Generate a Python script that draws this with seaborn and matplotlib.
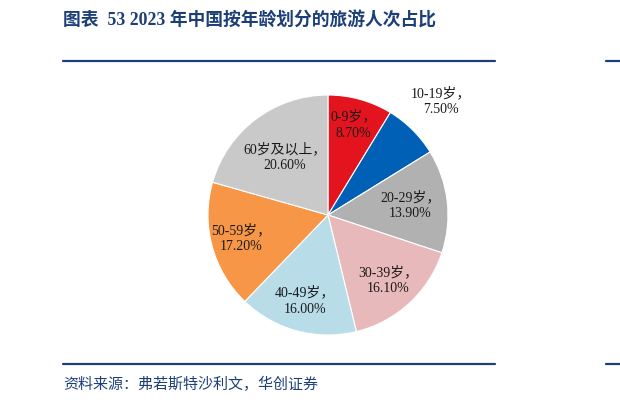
# 2023年中国按年龄划分的旅游人次占比 - 饼图

import matplotlib
matplotlib.use('Agg')
import matplotlib.pyplot as plt
import seaborn as sns
import numpy as np

# 数据
categories = ['0-9岁', '10-19岁', '20-29岁', '30-39岁', '40-49岁', '50-59岁', '60岁及以上']
shares = [8.70, 7.50, 13.90, 16.10, 16.00, 17.20, 20.60]
colors = ['#E3141E', '#0060B6', '#B1B1B1', '#E8B9BA', '#B8DDE9', '#F79646', '#C9C9C9']
# 标签离圆心的距离（相对半径）
label_r = [0.78, 1.34, 0.69, 0.74, 0.74, 0.75, 0.60]

title = '图表  53 2023 年中国按年龄划分的旅游人次占比'
source = '资料来源：弗若斯特沙利文，华创证券'

sns.set_theme(style='white')
plt.rcParams['font.family'] = ['Liberation Serif', 'Noto Sans CJK SC', 'DejaVu Sans']

navy = '#1C3F78'

fig = plt.figure(figsize=(6.2, 4.05), dpi=100)
ax = fig.add_axes([208 / 620, 70 / 405, 240 / 620, 240 / 405])

wedges, _ = ax.pie(shares, colors=colors, startangle=90, counterclock=False,
                   wedgeprops={'edgecolor': 'white', 'linewidth': 0.8})
ax.set_xlim(-1, 1)
ax.set_ylim(-1, 1)
ax.set_aspect('equal')

# 标签
for w, cat, val, r in zip(wedges, categories, shares, label_r):
    mid = np.deg2rad((w.theta1 + w.theta2) / 2)
    ax.text(r * np.cos(mid), r * np.sin(mid), f'{cat}，\n{val:.2f}%',
            ha='center', va='center', fontsize=10, color='#1a1a1a',
            linespacing=1.3)

# 标题与分隔线
fig.text(63 / 620, 1 - 21 / 405, title, fontsize=12.8, fontweight='bold',
         color=navy, ha='left', va='center')
fig.add_artist(plt.Line2D([63 / 620, 495 / 620], [1 - 61 / 405] * 2,
                          color=navy, linewidth=1.6))
fig.add_artist(plt.Line2D([63 / 620, 495 / 620], [1 - 364 / 405] * 2,
                          color=navy, linewidth=1.6))
# 右侧相邻图表的残留边线
fig.add_artist(plt.Line2D([606 / 620, 1.0], [1 - 61 / 405] * 2,
                          color=navy, linewidth=1.6))
fig.add_artist(plt.Line2D([606 / 620, 1.0], [1 - 364 / 405] * 2,
                          color=navy, linewidth=1.6))

fig.text(63 / 620, 1 - 384 / 405, source, fontsize=10.8, style='italic',
         color=navy, ha='left', va='center')

fig.savefig('out.png', dpi=100)
